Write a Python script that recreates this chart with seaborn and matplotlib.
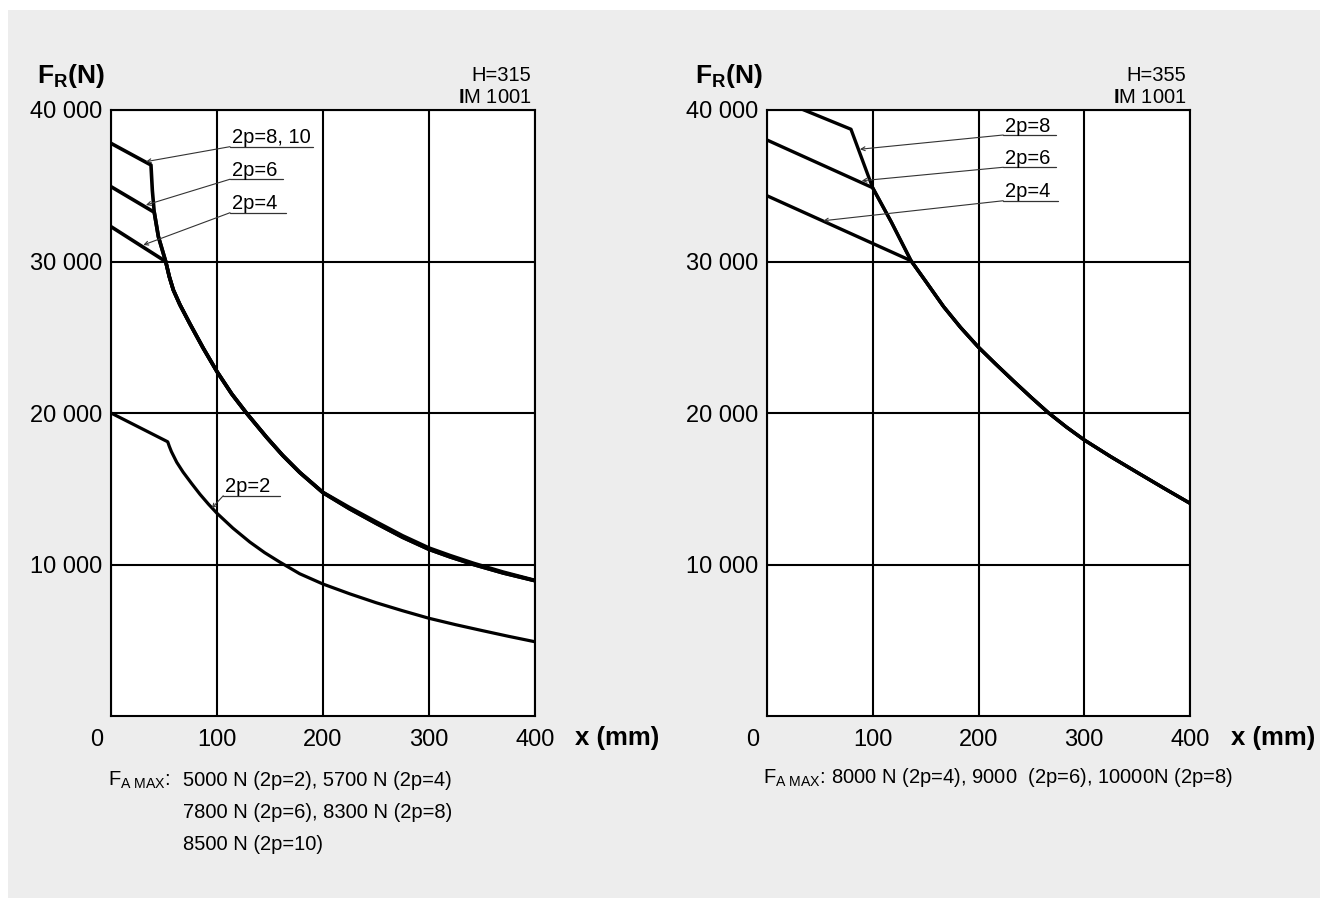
import matplotlib
matplotlib.use("Agg")
import matplotlib.pyplot as plt
import matplotlib.transforms as mtransforms
from matplotlib.patches import Rectangle
import seaborn as sns

# H=315 curves (x in mm, F_R in N)
h315_x_2p2 = [0, 53.5, 55, 57, 62, 68, 76, 84, 92, 100, 115, 131, 145, 159, 178, 200, 225, 250, 275, 300, 325, 350, 375, 400]
h315_y_2p2 = [20000, 18100, 17800, 17450, 16750, 16100, 15350, 14630, 13980, 13380, 12400, 11480, 10780, 10170, 9390, 8710,
              8070, 7480, 6950, 6450, 6030, 5640, 5260, 4900]

h315_x_2p4 = [0, 51.6, 55, 58.8, 65, 74.5, 87, 100, 114, 128, 147, 162, 178, 200, 225, 250, 275, 300, 320, 342, 370, 400]
h315_y_2p4 = [32300, 30000, 29000, 28120, 27150, 25880, 24280, 22730, 21250, 19980, 18380, 17200, 16080, 14760,
              13760, 12820, 11900, 11090, 10590, 10080, 9500, 8950]

h315_x_2p6 = [0, 40.8, 44.7, 51.6, 55, 58.8, 65, 74.5, 87, 100, 114, 128, 147, 162, 178, 200, 225, 250, 275, 300, 320, 342,
              370, 400]
h315_y_2p6 = [34940, 33250, 31640, 30000, 29000, 28120, 27150, 25880, 24280, 22730, 21250, 19980, 18380, 17200, 16080,
              14740, 13680, 12720, 11800, 11000, 10500, 10000, 9440, 8930]

h315_x_2p8 = [0, 37.7, 39, 40.8, 44.7, 51.6, 55, 58.8, 65, 74.5, 87, 100, 114, 128, 147, 162, 178, 200, 225, 250, 275, 300,
              320, 342, 370, 400]
h315_y_2p8 = [37800, 36370, 34700, 33250, 31640, 30000, 29000, 28120, 27150, 25880, 24280, 22730, 21250, 19980, 18380,
              17200, 16080, 14740, 13680, 12720, 11800, 11000, 10500, 10000, 9440, 8930]

# H=355 curves
h355_x_2p4 = [0, 136.2, 150, 167, 183, 200, 216, 233, 250, 266, 283, 300, 325, 350, 375, 400]
h355_y_2p4 = [34340, 30050, 28700, 27020, 25650, 24340, 23250, 22120, 21020, 20020, 19080, 18220, 17120, 16080, 15050, 14040]

h355_x_2p6 = [0, 99.9, 117.6, 136.2, 150, 167, 183, 200, 216, 233, 250, 266, 283, 300, 325, 350, 375, 400]
h355_y_2p6 = [38020, 34870, 32600, 30050, 28700, 27020, 25650, 24340, 23250, 22120, 21020, 20020, 19080, 18220, 17120,
              16080, 15050, 14040]

h355_x_2p8 = [0, 79.4, 99.9, 117.6, 136.2, 150, 167, 183, 200, 216, 233, 250, 266, 283, 300, 325, 350, 375, 400]
h355_y_2p8 = [41000, 38730, 34870, 32600, 30050, 28700, 27020, 25650, 24340, 23250, 22120, 21020, 20020, 19080, 18220,
              17120, 16080, 15050, 14040]

x_ticks = [0, 100, 200, 300, 400]
y_ticks = [10000, 20000, 30000, 40000]
y_tick_labels = ["10 000", "20 000", "30 000", "40 000"]

sns.set_style("white")
plt.rcParams['font.family'] = ['Liberation Sans', 'DejaVu Sans']
plt.rcParams['mathtext.fontset'] = 'custom'
plt.rcParams['mathtext.rm'] = 'Liberation Sans'
plt.rcParams['mathtext.bf'] = 'Liberation Sans:bold'
plt.rcParams['mathtext.it'] = 'Liberation Sans:italic'
plt.rcParams['text.color'] = 'black'
plt.rcParams['xtick.color'] = 'black'
plt.rcParams['ytick.color'] = 'black'

fig = plt.figure(figsize=(13.2, 8.98), dpi=100, facecolor='white')
fig.patches.append(Rectangle((8 / 1320, 0), 1, 1 - 10 / 898, transform=fig.transFigure,
                             facecolor='#ededed', edgecolor='none', zorder=-5))

ax1 = fig.add_axes([111 / 1320, 1 - 716 / 898, 424 / 1320, 606 / 898])
ax2 = fig.add_axes([767 / 1320, 1 - 716 / 898, 423 / 1320, 606 / 898])


def style_axes(ax):
    ax.set_facecolor('white')
    ax.set_xlim(0, 400)
    ax.set_ylim(0, 40000)
    ax.set_xticks(x_ticks)
    ax.set_yticks(y_ticks)
    ax.set_yticklabels(y_tick_labels)
    ax.tick_params(length=0, labelsize=17, colors='black')
    ax.tick_params(axis='x', pad=9)
    ax.tick_params(axis='y', pad=6)
    ax.grid(True, color='black', lw=1.5)
    for sp in ax.spines.values():
        sp.set_visible(True)
        sp.set_color('black')
        sp.set_linewidth(1.5)
    ax.set_xlabel('')
    ax.set_ylabel('')
    # the "0" sits left of the corner
    lbl = ax.get_xticklabels()[0]
    lbl.set_transform(lbl.get_transform() + mtransforms.ScaledTranslation(-14 / 100, 0, fig.dpi_scale_trans))


def leader(ax, text, tx, ty, x0, x1, y):
    ax.plot([x0, x1], [y, y], color='#333333', lw=0.9, zorder=4)
    ax.annotate('', xy=(tx, ty), xytext=(x0, y),
                arrowprops=dict(arrowstyle='->', color='#333333', lw=0.8,
                                shrinkA=0, shrinkB=0, mutation_scale=7), zorder=4)
    ax.annotate(text, xy=(x0, y), xytext=(1.5, 2.5), textcoords='offset points',
                va='baseline', ha='left', fontsize=14.5, zorder=5)


# left panel
sns.lineplot(x=h315_x_2p2, y=h315_y_2p2, ax=ax1, color='black', lw=2.3, estimator=None, sort=False)
sns.lineplot(x=h315_x_2p4, y=h315_y_2p4, ax=ax1, color='black', lw=2.6, estimator=None, sort=False)
sns.lineplot(x=h315_x_2p6, y=h315_y_2p6, ax=ax1, color='black', lw=2.6, estimator=None, sort=False)
sns.lineplot(x=h315_x_2p8, y=h315_y_2p8, ax=ax1, color='black', lw=2.6, estimator=None, sort=False)
style_axes(ax1)
leader(ax1, '2p=8, 10', 33.0, 36590, 112.3, 190.6, 37580)
leader(ax1, '2p=6', 33.0, 33730, 112.3, 162.3, 35430)
leader(ax1, '2p=4', 30.5, 31090, 112.3, 165.0, 33220)
leader(ax1, '2p=2', 95.0, 13710, 105.9, 159.4, 14540)

# right panel
sns.lineplot(x=h355_x_2p4, y=h355_y_2p4, ax=ax2, color='black', lw=2.4, estimator=None, sort=False)
sns.lineplot(x=h355_x_2p6, y=h355_y_2p6, ax=ax2, color='black', lw=2.4, estimator=None, sort=False)
sns.lineplot(x=h355_x_2p8, y=h355_y_2p8, ax=ax2, color='black', lw=2.4, estimator=None, sort=False)
style_axes(ax2)
leader(ax2, '2p=8', 87.9, 37410, 223.4, 273.3, 38350)
leader(ax2, '2p=6', 89.6, 35330, 223.4, 273.3, 36220)
leader(ax2, '2p=4', 53.2, 32690, 223.4, 275.2, 34010)

# headers
for ax, fx, h in [(ax1, -0.1745, 'H=315'), (ax2, -0.170, 'H=355')]:
    ax.text(fx, 1.045, r'$\mathbf{F_R}$(N)', transform=ax.transAxes, fontsize=19,
            fontweight='bold', ha='left', va='baseline')
    ax.text(0.992, 1.0483, h, transform=ax.transAxes, fontsize=14.5, ha='right', va='baseline')
    ax.text(0.992, 1.0111, r'$\mathbf{I}$M 1001', transform=ax.transAxes, fontsize=14.5,
            ha='right', va='baseline')

ax1.text(1.094, -0.0479, 'x (mm)', transform=ax1.transAxes, fontsize=18.5,
         fontweight='bold', ha='left', va='baseline')
ax2.text(1.097, -0.0479, 'x (mm)', transform=ax2.transAxes, fontsize=18.5,
         fontweight='bold', ha='left', va='baseline')

# F_A MAX notes
fig.text(108 / 1320, 1 - 786 / 898, r'$\mathregular{F_{A\ MAX}}$:', fontsize=14.5, ha='left', va='baseline')
fig.text(183 / 1320, 1 - 786 / 898, '5000 N (2p=2), 5700 N (2p=4)', fontsize=14.5, ha='left', va='baseline')
fig.text(183 / 1320, 1 - 818 / 898, '7800 N (2p=6), 8300 N (2p=8)', fontsize=14.5, ha='left', va='baseline')
fig.text(183 / 1320, 1 - 850 / 898, '8500 N (2p=10)', fontsize=14.5, ha='left', va='baseline')
fig.text(763 / 1320, 1 - 783 / 898,
         r'$\mathregular{F_{A\ MAX}}$: 8000 N (2p=4), 9000  (2p=6), 10000N (2p=8)',
         fontsize=14.5, ha='left', va='baseline')

fig.savefig('out.png', dpi=100, facecolor=fig.get_facecolor())
